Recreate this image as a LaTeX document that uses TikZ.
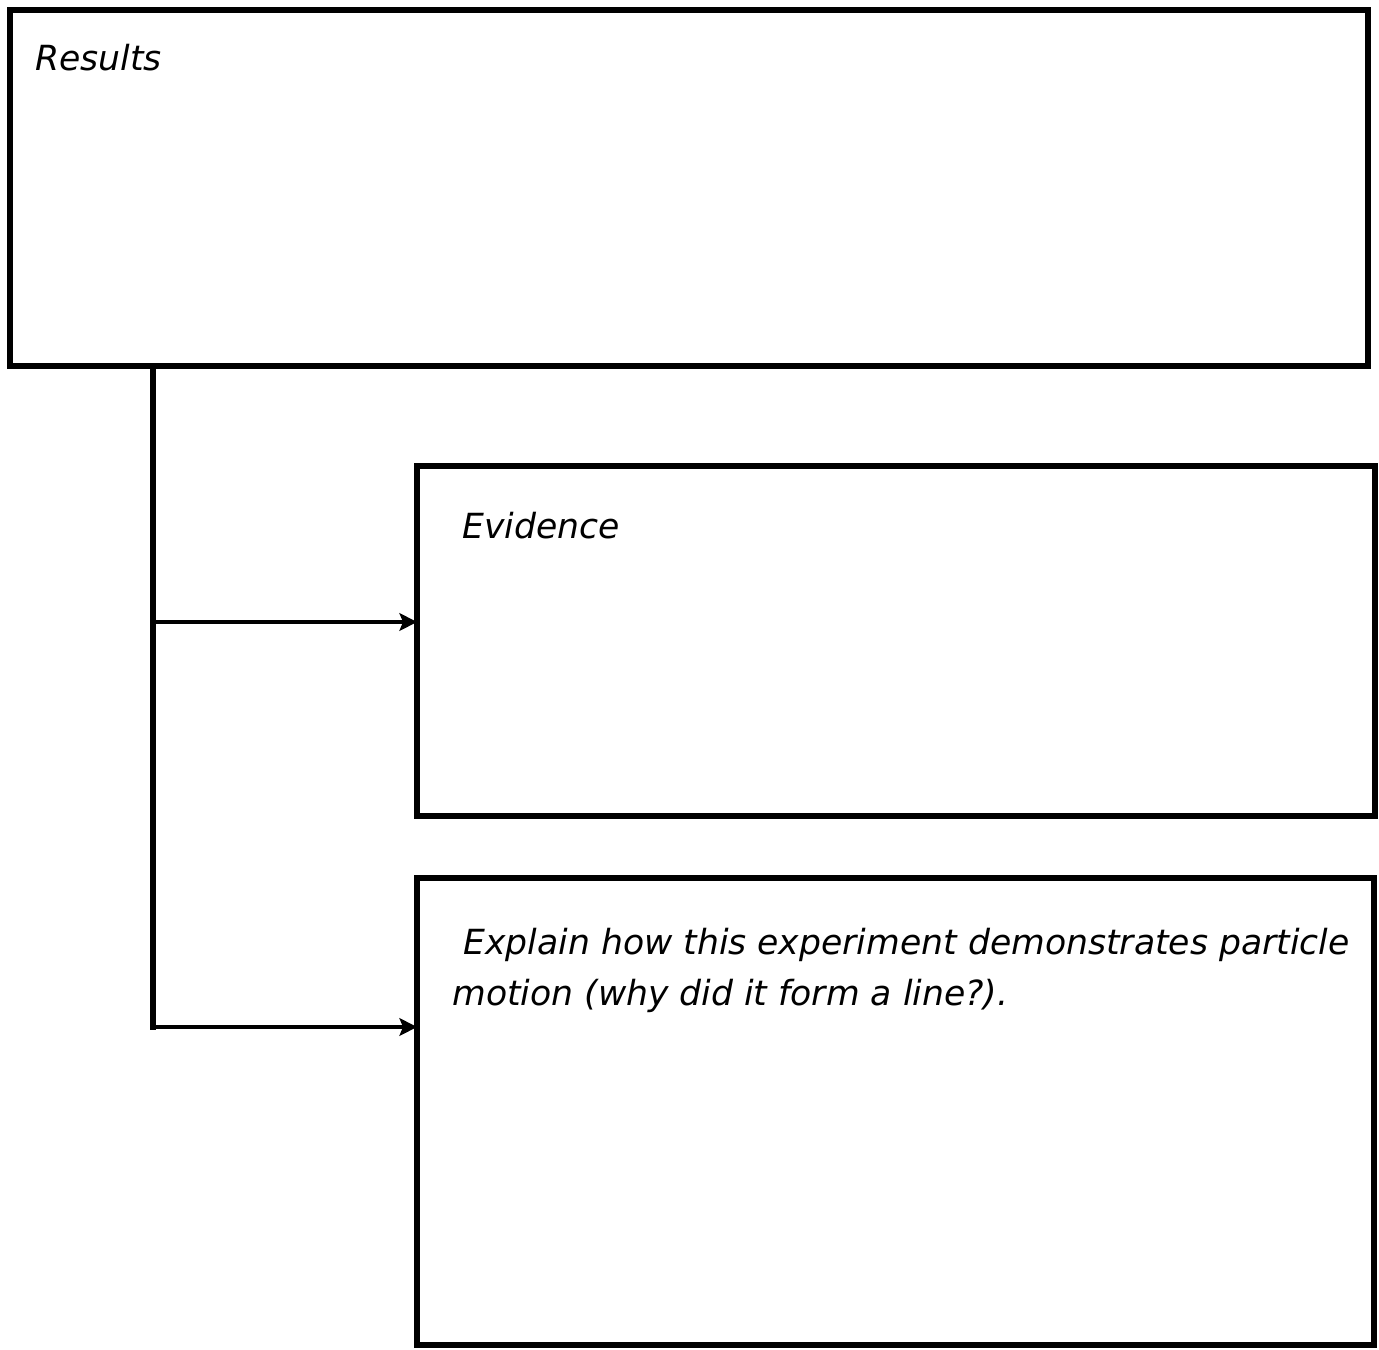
\documentclass[tikz,border=0pt]{standalone}
\usepackage{fontspec}
\setmainfont{DejaVu Sans}
\usetikzlibrary{arrows.meta}

\tikzset{
	box/.style={draw, line width=3pt, inner sep=0pt, outer sep=0pt},
	boxtext/.style={anchor=base west, inner sep=0pt, font=\fontsize{19.7}{28.5}\selectfont\itshape},
	branch/.style={line width=2.4pt, -{Stealth[length=10pt,width=10pt,inset=2pt]}}
}

\begin{document}
\begin{tikzpicture}[x=0.02cm, y=-0.02cm]
		
		% Khung trang
		\useasboundingbox (0,0) rectangle (1379,1349);
		
		% Cac khung
		\node[box, minimum width=27.16cm, minimum height=7.12cm] (results) at (689,188) {};
		\node[box, minimum width=19.16cm, minimum height=7.0cm] (evidence) at (896,641) {};
		\node[box, minimum width=19.14cm, minimum height=9.34cm] (explain) at (895.5,1111.5) {};
		
		% Nhan cac khung
		\node[boxtext] (resultslbl) at (35,70) {Results};
		\node[boxtext] (evidencelbl) at (462,538) {Evidence};
		\node[boxtext, align=left] (explainlbl) at (452,1005)
			{\ Explain how this experiment demonstrates particle\\motion (why did it form a line?).};
		
		% Duong noi
		\coordinate (trunkend) at (153,1030);
		\coordinate (b1) at (153,622);
		\coordinate (b2) at (153,1027);
		\draw[line width=3pt] (results.south -| trunkend) -- (trunkend);
		\draw[branch] (b1) -- (b1 -| evidence.west);
		\draw[branch] (b2) -- (b2 -| explain.west);
		
\end{tikzpicture}
\end{document}
